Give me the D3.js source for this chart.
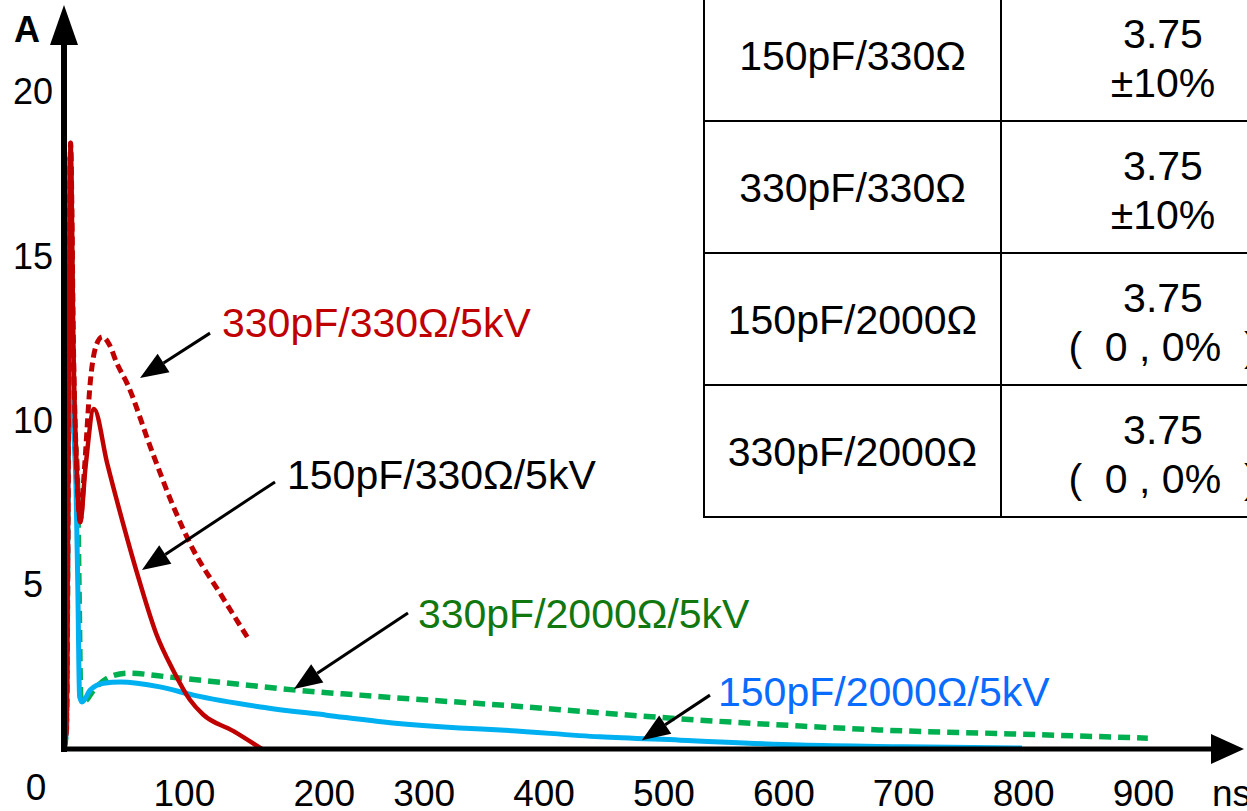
<!DOCTYPE html>
<html>
<head>
<meta charset="utf-8">
<script src="https://cdn.jsdelivr.net/npm/d3@7"></script>
<style>
  body { margin: 0; background: #fff; }
  svg { display: block; font-family: 'Liberation Sans', Arial, sans-serif; }
</style>
</head>
<body>
<svg id="chart" width="1247" height="811"></svg>
<script>
'use strict'

/*** Data (time in ns, current in A) ***/

const xTicks = [100, 200, 300, 400, 500, 600, 700, 800, 900]
const yTicks = [5, 10, 15, 20]

// 150pF / 330 ohm
const c150r330 = [[0, 0], [2, 0.6], [5.5, 18.45], [8, 12], [11, 8.2], [13.5, 6.9], [18, 8.6], [25, 10.35],
  [36, 8.7], [49, 6.9], [63, 5.1], [77, 3.5], [91, 2.4], [105, 1.5], [116, 1.05], [141, 0.55], [165, 0]]

// 330pF / 330 ohm
const c330r330 = [[0, 0], [2, 0.6], [5.5, 18.45], [8, 12], [11, 8.2], [13.5, 6.95], [17, 8.5], [22, 11.2],
  [27, 12.3], [32, 12.55], [38, 12.3], [44, 11.75], [53, 11.1], [72, 9.2], [91, 7.4], [108, 6.05],
  [130, 4.75], [153, 3.4]]

// 150pF / 2000 ohm
const c150r2000 = [[0, 0], [2, 0.6], [5, 18], [8, 10], [10, 8], [11.5, 5], [13, 1.6], [15, 1.43], [22, 1.8],
  [33, 2.0], [47, 2.04], [80, 1.89], [108, 1.64], [164, 1.28], [219, 1.03], [274, 0.79], [330, 0.64],
  [364, 0.58], [447, 0.37], [514, 0.27], [614, 0.12], [700, 0.07], [799, 0.03]]

// 330pF / 2000 ohm
const c330r2000 = [[0, 0], [2, 0.6], [5, 18], [8, 10], [11, 8.5], [12.5, 5], [14, 1.6], [16, 1.43], [26, 1.85],
  [38, 2.19], [53, 2.31], [88, 2.19], [136, 2.01], [191, 1.8], [247, 1.64], [303, 1.49], [364, 1.34],
  [447, 1.1], [530, 0.88], [614, 0.7], [680, 0.58], [791, 0.46], [904, 0.33]]

// callouts: text, where the text starts, arrow from -> to (all in ns / A)
const calloutTexts = ['330pF/330Ω/5kV', '150pF/330Ω/5kV', '330pF/2000Ω/5kV', '150pF/2000Ω/5kV']
const calloutAt = [[131.8, 12.54], [186, 7.91], [295.2, 3.68], [545.5, 1.31]]
const arrowFrom = [[121.8, 12.66], [176, 8.13], [286.9, 4.14], [538.8, 1.64]]
const arrowTo = [[63.4, 11.29], [65, 5.45], [191.8, 1.83], [482, 0.27]]

// table
const tableLoads = ['150pF/330Ω', '330pF/330Ω', '150pF/2000Ω', '330pF/2000Ω']
const tableCurrents = ['3.75', '3.75', '3.75', '3.75']
const tableTolerances = ['±10%', '±10%', '(\u00a0 0 , 0%\u00a0 )', '(\u00a0 0 , 0%\u00a0 )']

/*** Chart ***/

const calloutColors = ['#c00000', '#000000', '#11770f', '#0a6cff']

const svg = d3.select('#chart')

const x = d3.scaleLinear().domain([0, 900]).range([64, 1143])
const y = d3.scaleLinear().domain([0, 20]).range([749, 92])

const line = d3.line()
  .x(d => x(d[0]))
  .y(d => y(d[1]))
  .curve(d3.curveMonotoneX)

// table (top right, cut by the edge)
const rows = d3.scaleBand().domain(tableLoads).range([-11, 517])
const colEdges = [704, 1001, 1330]
const table = svg.append('g').attr('class', 'table')

table.selectAll('line.h')
  .data(tableLoads.slice(1).map(d => rows(d)).concat([rows.range()[1]]))
  .enter().append('line')
  .attr('x1', colEdges[0]).attr('x2', colEdges[2])
  .attr('y1', d => d).attr('y2', d => d)
  .style('stroke', '#000').style('stroke-width', 2)

table.selectAll('line.v')
  .data(colEdges.slice(0, 2))
  .enter().append('line')
  .attr('x1', d => d).attr('x2', d => d)
  .attr('y1', -20).attr('y2', rows.range()[1] + 1)
  .style('stroke', '#000').style('stroke-width', 2)

const cells = table.selectAll('g.row')
  .data(tableLoads)
  .enter().append('g')
  .attr('transform', d => `translate(0, ${rows(d) + rows.bandwidth() / 2})`)

cells.append('text')
  .attr('x', (colEdges[0] + colEdges[1]) / 2)
  .attr('y', 15)
  .attr('text-anchor', 'middle')
  .style('font-size', '41px')
  .text(d => d)

cells.append('text')
  .attr('x', 1163)
  .attr('y', -7)
  .attr('text-anchor', 'middle')
  .style('font-size', '41px')
  .text((d, i) => tableCurrents[i])

cells.append('text')
  .attr('x', 1163)
  .attr('y', 42)
  .attr('text-anchor', 'middle')
  .style('font-size', '41px')
  .text((d, i) => tableTolerances[i])

// curves
const curves = svg.append('g')
curves.append('path').datum(c330r2000)
  .attr('d', line)
  .style('fill', 'none').style('stroke', '#00b050').style('stroke-width', 5.5)
  .style('stroke-dasharray', '12,7')
curves.append('path').datum(c150r2000)
  .attr('d', line)
  .style('fill', 'none').style('stroke', '#00b0f0').style('stroke-width', 5)
curves.append('path').datum(c330r330)
  .attr('d', line)
  .style('fill', 'none').style('stroke', '#c00000').style('stroke-width', 5)
  .style('stroke-dasharray', '9,5')
curves.append('path').datum(c150r330)
  .attr('d', line)
  .style('fill', 'none').style('stroke', '#c00000').style('stroke-width', 4.5)

// axes
const xAxis = svg.append('g')
  .attr('transform', `translate(0, 806)`)
  .call(d3.axisBottom(x).tickValues(xTicks).tickSize(0).tickPadding(0))
xAxis.select('.domain').remove()
xAxis.selectAll('text')
  .attr('y', 0).attr('dy', 0)
  .attr('dx', d => d === 200 ? 20 : 0)
  .style('font-family', "'Liberation Sans', Arial, sans-serif")
  .style('font-size', '37px').style('fill', '#000')

const yAxis = svg.append('g')
  .attr('transform', `translate(33, 0)`)
  .call(d3.axisLeft(y).tickValues(yTicks).tickSize(0).tickPadding(0))
yAxis.select('.domain').remove()
yAxis.selectAll('text')
  .attr('x', 0).attr('dy', '0.33em')
  .attr('text-anchor', 'middle')
  .style('font-family', "'Liberation Sans', Arial, sans-serif")
  .style('font-size', '36px').style('fill', '#000')

const axisLines = svg.append('g')
axisLines.append('line')
  .attr('x1', x(0)).attr('x2', x(0))
  .attr('y1', y(0) + 3).attr('y2', 40)
  .style('stroke', '#000').style('stroke-width', 6)
axisLines.append('path')
  .attr('d', `M${x(0)},5L${x(0) - 14},45L${x(0) + 14},45Z`)
  .style('fill', '#000')
axisLines.append('line')
  .attr('x1', x(0) - 3).attr('x2', 1216)
  .attr('y1', y(0)).attr('y2', y(0))
  .style('stroke', '#000').style('stroke-width', 5)
axisLines.append('path')
  .attr('d', `M1244,${y(0)}L1211,${y(0) - 15}L1211,${y(0) + 15}Z`)
  .style('fill', '#000')

svg.append('text').attr('x', 14).attr('y', 42)
  .style('font-size', '36px').style('font-weight', 'bold')
  .text('A')
svg.append('text').attr('x', 1212).attr('y', 806)
  .style('font-size', '37px')
  .text('ns')
svg.append('text').attr('x', 36).attr('y', 800)
  .attr('text-anchor', 'middle')
  .style('font-size', '37px')
  .text('0')

// callouts with arrows
const callouts = svg.append('g')
calloutTexts.forEach((txt, i) => {
  const [x1, y1] = [x(arrowFrom[i][0]), y(arrowFrom[i][1])]
  const [x2, y2] = [x(arrowTo[i][0]), y(arrowTo[i][1])]
  const a = Math.atan2(y2 - y1, x2 - x1)
  const len = 28, half = 11
  const bx = x2 - len * Math.cos(a), by = y2 - len * Math.sin(a)
  callouts.append('line')
    .attr('x1', x1).attr('y1', y1).attr('x2', bx).attr('y2', by)
    .style('stroke', '#000').style('stroke-width', 3)
  callouts.append('path')
    .attr('d', `M${x2},${y2}L${bx + half * Math.sin(a)},${by - half * Math.cos(a)}` +
      `L${bx - half * Math.sin(a)},${by + half * Math.cos(a)}Z`)
    .style('fill', '#000')
  callouts.append('text')
    .attr('x', x(calloutAt[i][0])).attr('y', y(calloutAt[i][1]))
    .style('font-size', '41px')
    .style('fill', calloutColors[i])
    .text(txt)
})
</script>
</body>
</html>
